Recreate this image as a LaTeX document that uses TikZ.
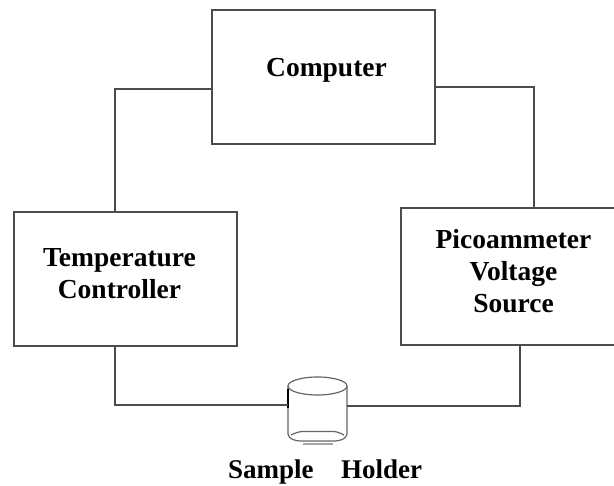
\documentclass[tikz,border=0pt]{standalone}
\usepackage{fontspec}
\setmainfont{Liberation Serif}
\definecolor{linec}{gray}{0.3}
\tikzset{
  x=1pt,y=-1pt,
  boxn/.style={draw=linec,line width=1.2pt,anchor=north west,inner sep=0pt,outer sep=0pt},
  lab/.style={font=\fontsize{27.5}{32}\selectfont\bfseries,align=center,text=black,inner sep=0pt},
  wire/.style={draw=linec,line width=1.2pt,line join=miter},
  cyl/.style={draw=black!60,line width=1.2pt}
}
\begin{document}
\begin{tikzpicture}
\useasboundingbox (0,0) rectangle (614,486);
\clip (0,0) rectangle (614,486);
\node[boxn,minimum width=223pt,minimum height=134pt] (comp) at (212,10) {};
\node[boxn,minimum width=223pt,minimum height=134pt] (temp) at (14,212) {};
\node[boxn,minimum width=220pt,minimum height=137pt] (pico) at (401,208) {};
\node[lab,anchor=base] (tcomp) at (326.5,77) {Computer};
\node[lab,anchor=base] (ttemp) at (119.5,267) {Temperature};
\node[lab,anchor=base] (ttemp2) at (119.5,299) {Controller};
\node[lab,anchor=base] (tpico) at (513.5,249) {Picoammeter};
\node[lab,anchor=base] (tpico2) at (513.5,281) {Voltage};
\node[lab,anchor=base] (tpico3) at (513.5,313) {Source};
\node[lab,anchor=base west,font=\fontsize{27}{32}\selectfont\bfseries] (tsamp) at (228,478.5) {Sample};
\node[lab,anchor=base west,font=\fontsize{27}{32}\selectfont\bfseries] (thold) at (341,478.5) {Holder};
% sample holder
\coordinate (cl) at (288,386);
\coordinate (cr) at (347,386);
\coordinate (bl) at (288,434);
\coordinate (br) at (347,434);
\draw[cyl] (317.5,386) ellipse [x radius=29.5pt,y radius=9pt];
\draw[cyl] (cl) -- (bl) .. controls (289,439) and (294,441) .. (302,441) -- (333,441) .. controls (341,441) and (346,439) .. (br) -- (cr);
\draw[cyl,black!35] (303,444) -- (333,444);
\draw[cyl] (291,435) .. controls (295,433) and (299,431.5) .. (303,431.5) -- (333,431.5) .. controls (337,431.5) and (340,433) .. (344,435);
\draw[draw=black,line width=1.2pt] (288,389) -- (288,408);
% connectors
\coordinate (c1) at (115,89);
\coordinate (c2) at (534,87);
\coordinate (c3) at (115,405);
\coordinate (c4) at (520,406);
\draw[wire] (temp.north -| c1) -- (c1) -- (c1 -| comp.west);
\draw[wire] (c2 -| comp.east) -- (c2) -- (c2 |- pico.north);
\draw[wire] (temp.south -| c3) -- (c3) -- (c3 -| cl);
\draw[wire] (pico.south -| c4) -- (c4) -- (c4 -| cr);
\end{tikzpicture}
\end{document}
